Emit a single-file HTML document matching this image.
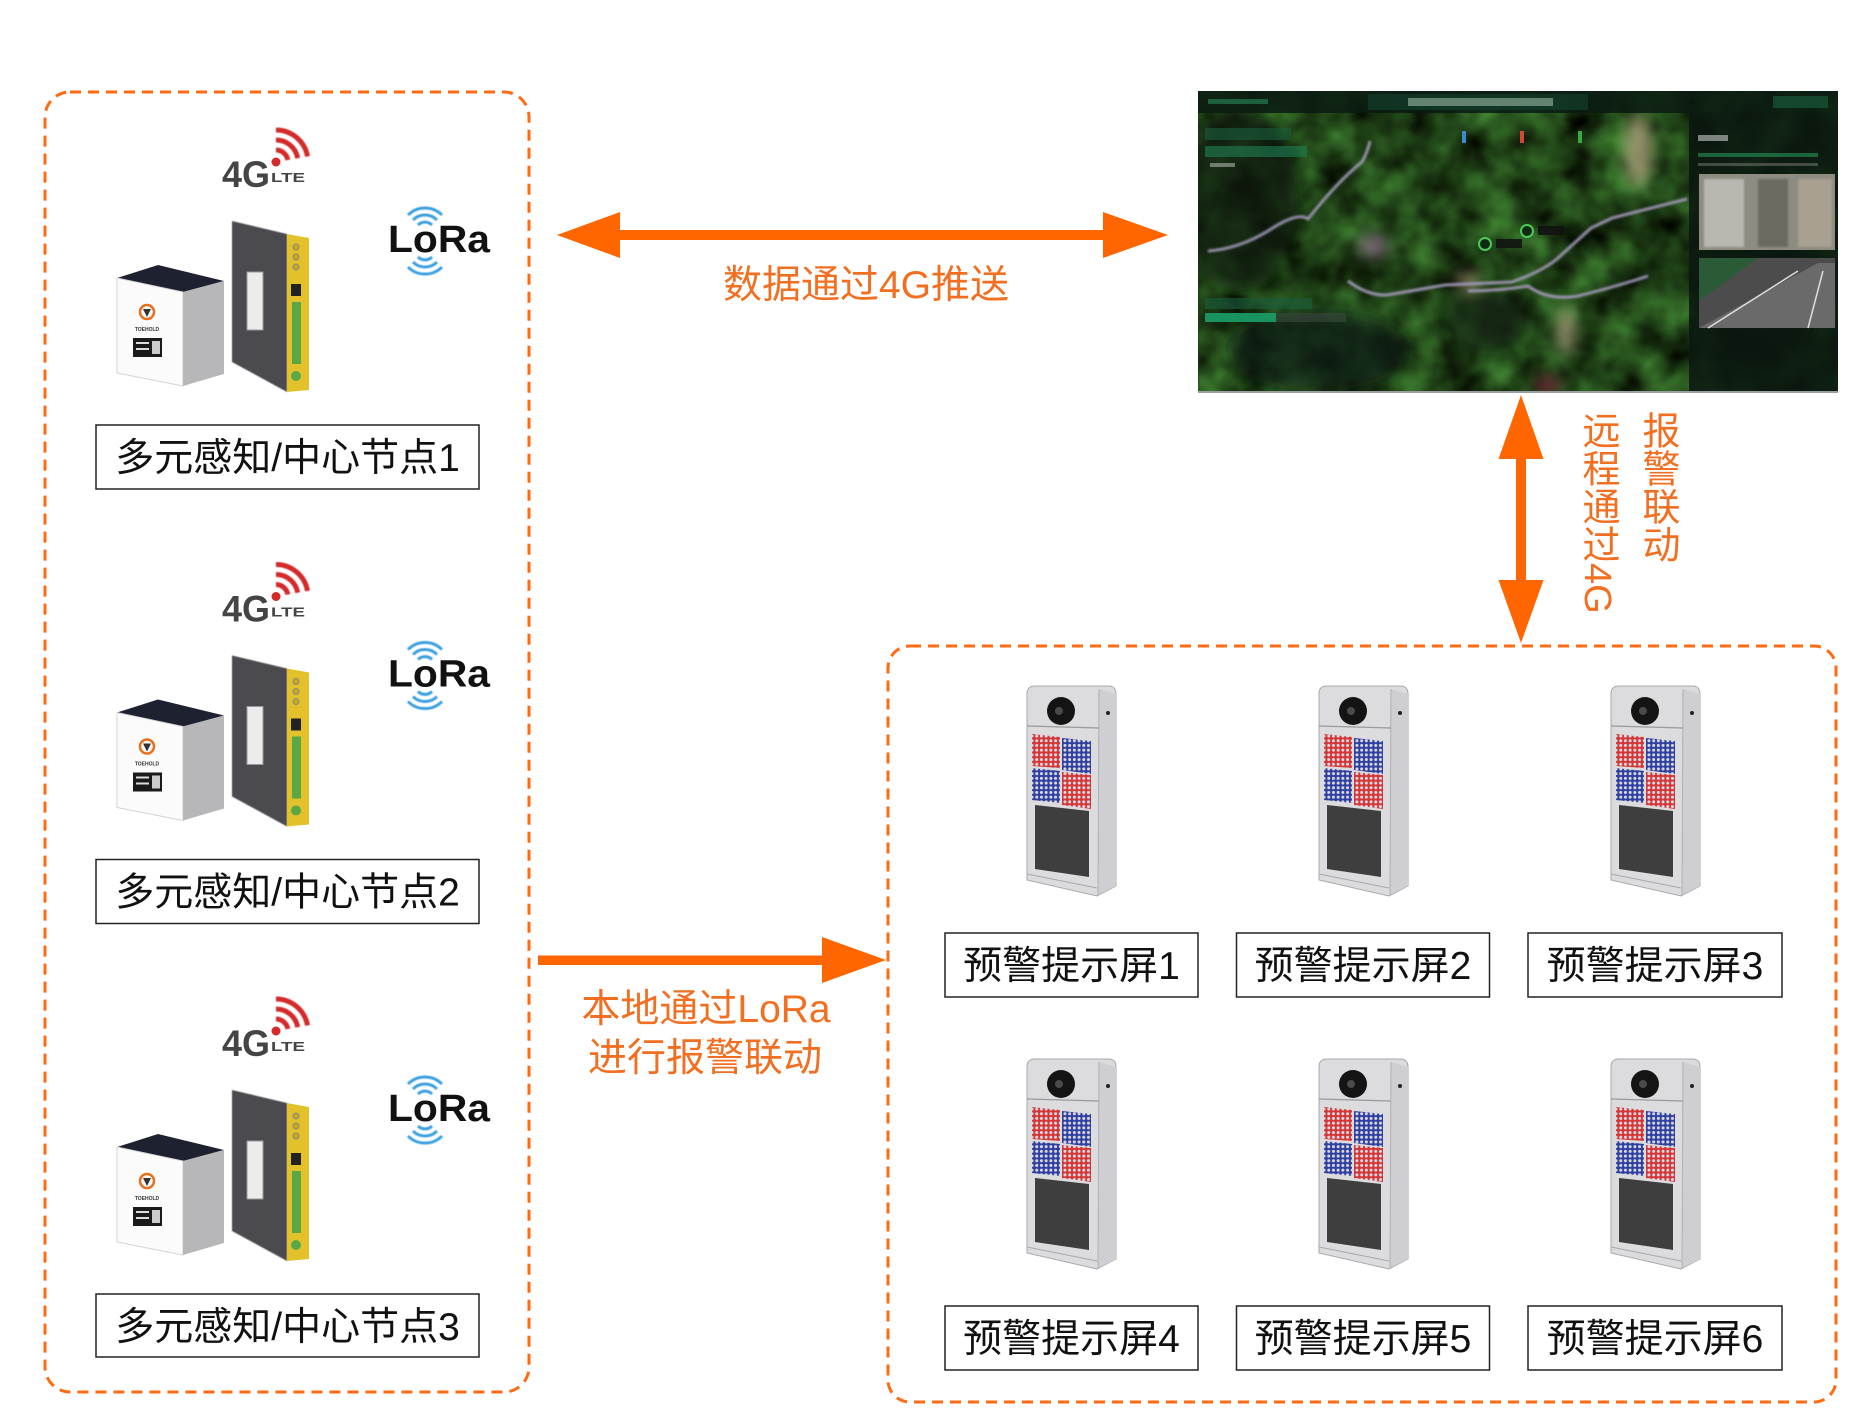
<!DOCTYPE html>
<html><head><meta charset="utf-8">
<style>
html,body{margin:0;padding:0;background:#fff;}
#wrap{position:relative;width:1870px;height:1426px;overflow:hidden;background:#fff;}
svg{position:absolute;left:0;top:0;}
.vt{position:absolute;writing-mode:vertical-rl;font-family:"Liberation Sans","Noto Sans CJK SC",sans-serif;font-size:38px;line-height:38px;color:#F26F21;white-space:nowrap;}
</style></head>
<body><div id="wrap">
<svg width="1870" height="1426" viewBox="0 0 1870 1426" xmlns="http://www.w3.org/2000/svg" font-family="'Liberation Sans','Noto Sans CJK SC',sans-serif">
<defs>
  <pattern id="pr" width="4.7" height="4.7" patternUnits="userSpaceOnUse"><rect width="4.7" height="4.7" fill="#d43535"/><circle cx="2.35" cy="2.35" r="1.5" fill="#d8d8e0"/></pattern>
  <pattern id="pb" width="4.7" height="4.7" patternUnits="userSpaceOnUse"><rect width="4.7" height="4.7" fill="#2f3f9f"/><circle cx="2.35" cy="2.35" r="1.5" fill="#d8d8e0"/></pattern>
  <filter id="bl" x="-20%" y="-20%" width="140%" height="140%"><feGaussianBlur stdDeviation="7"/></filter>
  <filter id="bl2"><feGaussianBlur stdDeviation="1"/></filter>
  <filter id="bl3"><feGaussianBlur stdDeviation="0.6"/></filter>
  <filter id="terr" x="0" y="0" width="100%" height="100%" color-interpolation-filters="sRGB">
    <feTurbulence type="fractalNoise" baseFrequency="0.025" numOctaves="3" seed="7" result="n"/>
    <feColorMatrix in="n" type="matrix" values="0.35 0 0 0 -0.05  0.72 0 0 0 -0.1  0.3 0 0 0 -0.06  0 0 0 0 1" result="c"/>
    <feGaussianBlur in="c" stdDeviation="1.2"/>
  </filter>
  <clipPath id="mc"><rect width="640" height="302"/></clipPath>

  <g id="dev">
    <path d="M2,12 Q2,4 10,4 L83,4 Q91,4 91,12 L91,204 L72,214 L2,198 Z" fill="#dcdcde" stroke="#a9a9ad" stroke-width="1"/>
    <polygon points="74,7 91,12 91,204 73,213" fill="#cfcfd3"/>
    <line x1="74" y1="7" x2="73" y2="213" stroke="#b0b0b4" stroke-width="1"/>
    <line x1="2" y1="44" x2="74" y2="46" stroke="#9a9a9e" stroke-width="1.2"/>
    <circle cx="36" cy="29" r="14" fill="#141414"/>
    <circle cx="34" cy="29" r="4" fill="#4a4a4a"/>
    <circle cx="83" cy="31" r="2" fill="#222"/>
    <polygon points="7,52 35,55 35,86 7,84" fill="url(#pr)"/>
    <polygon points="37,56 66,59 66,92 37,88" fill="url(#pb)"/>
    <polygon points="7,86 35,89 35,121 7,118" fill="url(#pb)"/>
    <polygon points="37,90 66,93 66,127 37,123" fill="url(#pr)"/>
    <polygon points="10,123 64,129 64,195 10,187" fill="#3e3e3e"/>
    <line x1="2" y1="192" x2="72" y2="206" stroke="#a8a8ac" stroke-width="1"/>
  </g>

  <g id="node">
    <g fill="none" stroke="#d42a2a" stroke-width="5" stroke-linecap="butt" filter="url(#bl3)">
      <path d="M276,150 A12,12 0 0 1 287.8,160"/>
      <path d="M276,140 A22,22 0 0 1 297.7,158.2"/>
      <path d="M276,130 A32,32 0 0 1 307.5,156.4"/>
    </g>
    <circle cx="276" cy="162" r="4.5" fill="#d42a2a"/>
    <polygon points="117,278 158,265 224,281 183,292" fill="#1e2230"/>
    <polygon points="117,278 183,292 183,386 117,373" fill="#fbfbfb" stroke="#d4d4d4" stroke-width="1"/>
    <polygon points="183,292 224,281 224,374 183,386" fill="#b7b7b9"/>
    <circle cx="147" cy="312" r="7" fill="none" stroke="#e8701a" stroke-width="2.5"/>
    <path d="M143,309 L151,309 L147,317 Z" fill="#333"/>
    <rect x="133" y="338" width="29" height="19" fill="#1a1a1a"/>
    <rect x="136" y="342" width="13" height="2" fill="#ddd"/>
    <rect x="136" y="348" width="13" height="2" fill="#ddd"/>
    <rect x="152" y="341" width="8" height="13" fill="#ccc"/>
    <polygon points="232,221 287,234 287,392 232,362" fill="#4b4c50" filter="url(#bl3)"/>
    <polygon points="287,234 309,238 309,390 287,392" fill="#e3c12a"/>
    <rect x="247" y="272" width="16" height="58" fill="#ececec" stroke="#999" stroke-width="1"/>
    <circle cx="296" cy="247" r="3" fill="#c8a820" stroke="#888" stroke-width="1"/>
    <circle cx="296" cy="257" r="3" fill="#c8a820" stroke="#888" stroke-width="1"/>
    <circle cx="296" cy="267" r="3" fill="#c8a820" stroke="#888" stroke-width="1"/>
    <rect x="291" y="284" width="10" height="12" fill="#222"/>
    <rect x="292" y="302" width="9" height="62" fill="#5aa845"/>
    <circle cx="296" cy="376" r="5" fill="#5aa845"/>
    <g fill="none" stroke="#3aa0e0" stroke-width="3" filter="url(#bl3)">
      <path d="M418,225 A10,10 0 0 1 432,225"/>
      <path d="M413,220 A17,17 0 0 1 437,220"/>
      <path d="M408,215 A24,24 0 0 1 442,215"/>
      <path d="M418,257 A10,10 0 0 0 432,257"/>
      <path d="M413,262 A17,17 0 0 0 437,262"/>
      <path d="M408,267 A24,24 0 0 0 442,267"/>
    </g>
  </g>
</defs>

<rect x="45" y="92" width="484" height="1300" rx="25" ry="25" fill="none" stroke="#FF6A13" stroke-width="3" stroke-dasharray="11 7"/>
<rect x="888" y="646" width="948" height="756" rx="22" ry="22" fill="none" stroke="#FF6A13" stroke-width="3" stroke-dasharray="11 7"/>

<use href="#node"/>
<use href="#node" y="434.5"/>
<use href="#node" y="869"/>
<g font-family="'Liberation Sans',sans-serif" font-weight="bold">
  <text x="222" y="187" font-size="37" fill="#444" textLength="48" lengthAdjust="spacingAndGlyphs">4G</text>
  <text x="271" y="182" font-size="13" fill="#444" textLength="34" lengthAdjust="spacingAndGlyphs">LTE</text>
  <text x="388" y="252" font-size="38" fill="#111" textLength="102" lengthAdjust="spacingAndGlyphs">LoRa</text>
  <text x="147" y="331" font-size="5" fill="#333" text-anchor="middle">TOEHOLD</text>

  <text x="222" y="621.5" font-size="37" fill="#444" textLength="48" lengthAdjust="spacingAndGlyphs">4G</text>
  <text x="271" y="616.5" font-size="13" fill="#444" textLength="34" lengthAdjust="spacingAndGlyphs">LTE</text>
  <text x="388" y="686.5" font-size="38" fill="#111" textLength="102" lengthAdjust="spacingAndGlyphs">LoRa</text>
  <text x="147" y="765.5" font-size="5" fill="#333" text-anchor="middle">TOEHOLD</text>

  <text x="222" y="1056" font-size="37" fill="#444" textLength="48" lengthAdjust="spacingAndGlyphs">4G</text>
  <text x="271" y="1051" font-size="13" fill="#444" textLength="34" lengthAdjust="spacingAndGlyphs">LTE</text>
  <text x="388" y="1121" font-size="38" fill="#111" textLength="102" lengthAdjust="spacingAndGlyphs">LoRa</text>
  <text x="147" y="1200" font-size="5" fill="#333" text-anchor="middle">TOEHOLD</text>
</g>

<g fill="#fff" stroke="#222" stroke-width="1.5">
  <rect x="96" y="425" width="383" height="64"/>
  <rect x="96" y="859.5" width="383" height="64"/>
  <rect x="96" y="1294" width="383" height="63"/>
</g>
<g font-size="39" fill="#111" text-anchor="middle">
  <text x="287.5" y="471">多元感知/中心节点1</text>
  <text x="287.5" y="905.5">多元感知/中心节点2</text>
  <text x="287.5" y="1340">多元感知/中心节点3</text>
</g>

<g fill="#FF6600">
  <rect x="615" y="230" width="493" height="10"/>
  <polygon points="557,235 620,212 620,258"/>
  <polygon points="1168,235 1103,212 1103,258"/>
  <rect x="1516" y="455" width="10" height="129"/>
  <polygon points="1521,395 1498.5,459 1543.5,459"/>
  <polygon points="1521,643 1498.5,580 1543.5,580"/>
  <rect x="538" y="955.5" width="288" height="9.5"/>
  <polygon points="886,960 822,937 822,983"/>
</g>
<g font-size="39" fill="#F26F21" text-anchor="middle">
  <text x="866" y="298">数据通过4G推送</text>
  <text x="706" y="1022">本地通过LoRa</text>
  <text x="705" y="1071">进行报警联动</text>
</g>

<!-- map screenshot -->
<g transform="translate(1198,91)">
  <g clip-path="url(#mc)">
    <rect width="640" height="302" fill="#1f3621"/>
    <rect width="640" height="302" filter="url(#terr)"/>
    <g filter="url(#bl)" opacity="0.7">
      <ellipse cx="40" cy="110" rx="60" ry="90" fill="#0c160d"/>
      <ellipse cx="120" cy="260" rx="90" ry="40" fill="#111f12"/>
      <ellipse cx="560" cy="200" rx="60" ry="80" fill="#0f1c10"/>
      <ellipse cx="290" cy="230" rx="40" ry="30" fill="#152815"/>
      <ellipse cx="440" cy="60" rx="14" ry="36" fill="#c4b48e"/>
      <ellipse cx="368" cy="240" rx="9" ry="24" fill="#bfb090"/>
      <ellipse cx="175" cy="155" rx="15" ry="12" fill="#9a7898"/>
      <ellipse cx="270" cy="190" rx="12" ry="9" fill="#a89878"/>
      <ellipse cx="350" cy="295" rx="12" ry="12" fill="#8a3a4a"/>
    </g>
    <g fill="none" stroke="#a89cc0" stroke-width="3" filter="url(#bl2)" opacity="0.9">
      <path d="M150,190 Q170,205 189,204 L247,194 L314,191 Q345,180 360,167 L393,137 L414,127 L489,108"/>
      <path d="M10,160 Q40,158 70,140 Q100,120 110,128 Q140,90 164,71 Q170,60 172,50"/>
      <path d="M270,200 Q300,200 330,195 Q350,210 380,205 Q420,195 450,185"/>
    </g>
    <rect width="640" height="22" fill="#0b1a12" opacity="0.85"/>
    <rect x="170" y="3" width="220" height="16" fill="#123a28" opacity="0.8"/>
    <rect x="210" y="7" width="145" height="8" fill="#a8c4b0" opacity="0.55"/>
    <rect x="10" y="8" width="60" height="5" fill="#2a8a5a" opacity="0.6"/>
    <rect x="575" y="5" width="55" height="12" fill="#175a3a" opacity="0.7"/>
    <rect x="7" y="37" width="86" height="12" fill="#1a5a3a" opacity="0.65"/>
    <rect x="7" y="55" width="102" height="11" fill="#1e7a50" opacity="0.65"/>
    <rect x="12" y="72" width="25" height="4" fill="#ccc" opacity="0.5"/>
    <rect x="7" y="207" width="107" height="11" fill="#1a5a3a" opacity="0.65"/>
    <rect x="7" y="222" width="71" height="9" fill="#1aa06a" opacity="0.9"/>
    <rect x="78" y="222" width="70" height="9" fill="#3a4a40" opacity="0.6"/>
    <rect x="264" y="40" width="4" height="12" fill="#3a8ad0"/>
    <rect x="322" y="40" width="4" height="12" fill="#d04a30"/>
    <rect x="380" y="40" width="4" height="12" fill="#3aaa40"/>
    <circle cx="287" cy="153" r="6" fill="#0e2a14" stroke="#4aca5a" stroke-width="2"/>
    <circle cx="329" cy="140" r="6" fill="#0e2a14" stroke="#4aca5a" stroke-width="2"/>
    <rect x="298" y="148" width="26" height="9" fill="#111" opacity="0.85"/>
    <rect x="340" y="135" width="26" height="9" fill="#111" opacity="0.85"/>
    <rect x="491" y="22" width="149" height="280" fill="#0b1610" opacity="0.85"/>
    <rect x="500" y="44" width="30" height="6" fill="#ddd" opacity="0.55"/>
    <rect x="500" y="62" width="120" height="4" fill="#2aa060" opacity="0.55"/>
    <rect x="500" y="72" width="120" height="3" fill="#aaa" opacity="0.35"/>
    <rect x="501" y="83" width="136" height="76" fill="#8c8c80"/>
    <rect x="506" y="88" width="40" height="68" fill="#b8b8b0" filter="url(#bl2)"/>
    <rect x="560" y="88" width="30" height="68" fill="#6a6a60" filter="url(#bl2)"/>
    <rect x="600" y="88" width="34" height="68" fill="#a8a090" filter="url(#bl2)"/>
    <rect x="501" y="167" width="136" height="70" fill="#4c4c4c"/>
    <polygon points="501,167 560,167 501,210" fill="#2a5a36"/>
    <polygon points="501,237 620,172 637,172 637,237" fill="#6a6a6a"/>
    <line x1="510" y1="237" x2="600" y2="180" stroke="#ddd" stroke-width="1.5"/>
    <line x1="610" y1="237" x2="625" y2="180" stroke="#ddd" stroke-width="1.5"/>
  </g>
  <rect x="0" y="300" width="640" height="2" fill="#9aa0a0"/>
</g>

<use href="#dev" x="1025" y="682"/>
<use href="#dev" x="1317" y="682"/>
<use href="#dev" x="1609" y="682"/>
<use href="#dev" x="1025" y="1055"/>
<use href="#dev" x="1317" y="1055"/>
<use href="#dev" x="1609" y="1055"/>

<g fill="#fff" stroke="#222" stroke-width="1.5">
  <rect x="945" y="933" width="253" height="64"/>
  <rect x="1236.5" y="933" width="253" height="64"/>
  <rect x="1528" y="933" width="254" height="64"/>
  <rect x="945" y="1306" width="253" height="64"/>
  <rect x="1236.5" y="1306" width="253" height="64"/>
  <rect x="1528" y="1306" width="254" height="64"/>
</g>
<g font-size="39" fill="#111" text-anchor="middle">
  <text x="1071.5" y="979">预警提示屏1</text>
  <text x="1363" y="979">预警提示屏2</text>
  <text x="1655" y="979">预警提示屏3</text>
  <text x="1071.5" y="1352">预警提示屏4</text>
  <text x="1363" y="1352">预警提示屏5</text>
  <text x="1655" y="1352">预警提示屏6</text>
</g>
</svg>

<div class="vt" style="left:1578px;top:411px;">远程通过4G</div>
<div class="vt" style="left:1638px;top:411px;">报警联动</div>
</div></body></html>
